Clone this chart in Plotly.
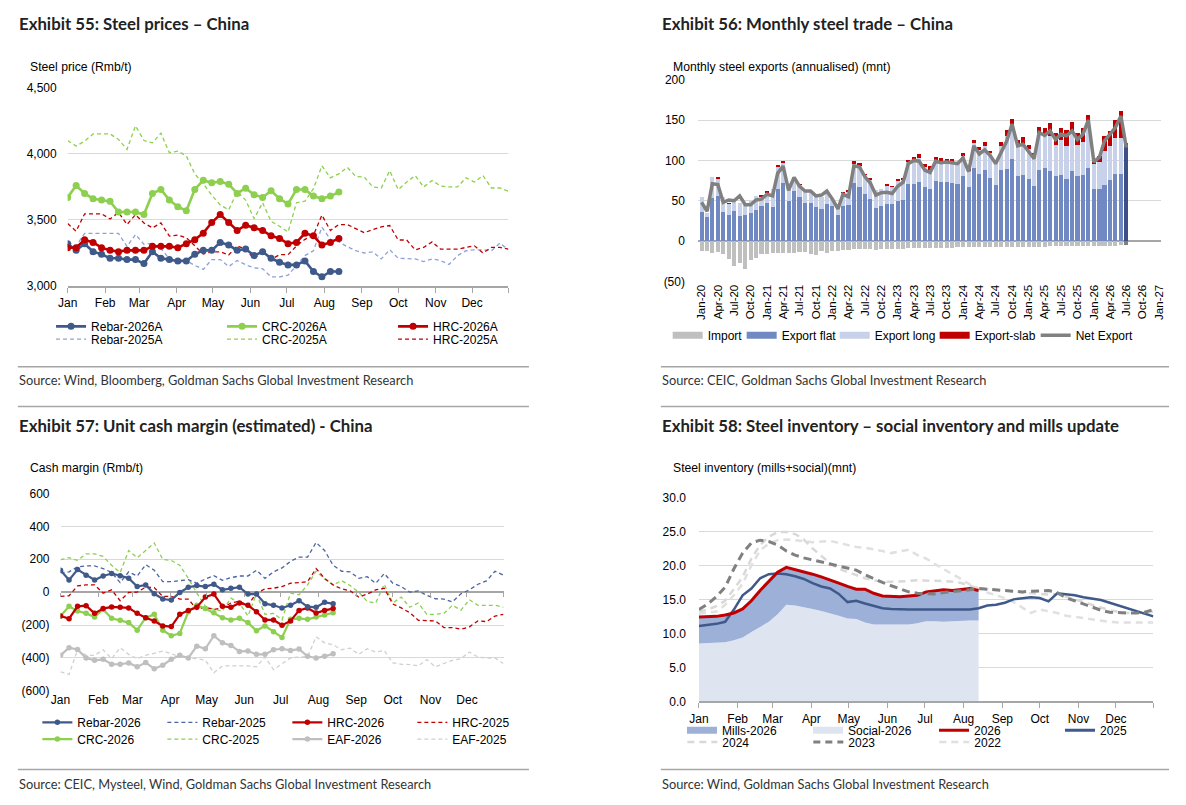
import numpy as np
import pandas as pd
import plotly.graph_objects as go

# page is 1186 x 805 px; everything is placed in paper coords converted from pixels
W, H = 1186, 805


def fx(px):
    return px / W


def fy(py):
    return 1 - py / H


CHART_FONT = "Liberation Sans, Arial, sans-serif"
HEAD_FONT = "Lato, Open Sans, sans-serif"
GRID = "#D9D9D9"
AXIS = "#A6A6A6"

NAVY = "#3F5A8A"
GREEN = "#8DCF4F"
RED = "#C00000"

# ======================
# DATA
# ======================
# seasonal charts: weekly points, both years drawn on one Jan-Dec axis
weeks = pd.date_range("2026-01-01", periods=53, freq="7D")
weeks_ytd = weeks[:33]
month_ticks = list(pd.date_range("2026-01-01", periods=12, freq="MS")) + [pd.Timestamp("2026-12-31")]
month_labels = ["Jan", "Feb", "Mar", "Apr", "May", "Jun", "Jul", "Aug", "Sep", "Oct", "Nov", "Dec", ""]

# Exhibit 55 - steel prices (Rmb/t)
rebar_2026 = [3320, 3270, 3320, 3260, 3240, 3210, 3210, 3200, 3200, 3170, 3260, 3210, 3200, 3190, 3190, 3240, 3270,
              3270, 3330, 3310, 3270, 3280, 3230, 3260, 3210, 3180, 3160, 3160, 3190, 3110, 3070, 3110, 3110]
crc_2026 = [3670, 3760, 3700, 3660, 3650, 3640, 3560, 3560, 3560, 3540, 3700, 3730, 3650, 3600, 3570, 3730, 3800,
            3780, 3790, 3770, 3700, 3740, 3690, 3670, 3720, 3660, 3620, 3730, 3730, 3680, 3660, 3680, 3710]
hrc_2026 = [3290, 3290, 3350, 3330, 3290, 3270, 3260, 3270, 3270, 3270, 3300, 3300, 3300, 3290, 3320, 3350, 3400,
            3480, 3540, 3480, 3420, 3460, 3440, 3420, 3380, 3360, 3320, 3330, 3400, 3380, 3310, 3330, 3360]
rebar_2025 = [3329, 3304, 3398, 3398, 3398, 3398, 3398, 3299, 3390, 3316, 3324, 3284, 3205, 3193, 3193, 3156, 3126,
              3200, 3200, 3148, 3193, 3161, 3138, 3131, 3069, 3069, 3082, 3156, 3230, 3267, 3445, 3353, 3334, 3297,
              3267, 3250, 3259, 3205, 3274, 3210, 3210, 3205, 3185, 3205, 3193, 3163, 3230, 3267, 3274, 3274, 3267,
              3324, 3274]
crc_2025 = [4100, 4058, 4095, 4150, 4150, 4150, 4107, 4033, 4211, 4100, 4082, 4156, 4008, 4020, 3983, 3848, 3773,
            3687, 3613, 3576, 3712, 3650, 3509, 3630, 3489, 3452, 3408, 3630, 3642, 3736, 3909, 3818, 3848, 3897,
            3828, 3823, 3749, 3741, 3872, 3729, 3786, 3835, 3749, 3798, 3756, 3749, 3749, 3818, 3786, 3835, 3741,
            3741, 3717]
hrc_2025 = [3472, 3415, 3546, 3546, 3546, 3507, 3556, 3465, 3539, 3477, 3440, 3477, 3378, 3385, 3366, 3304, 3242,
            3259, 3259, 3235, 3304, 3279, 3205, 3267, 3200, 3237, 3237, 3304, 3353, 3385, 3536, 3420, 3465, 3465,
            3432, 3403, 3427, 3447, 3457, 3348, 3348, 3274, 3292, 3334, 3279, 3279, 3279, 3292, 3304, 3250, 3292,
            3292, 3279]

# Exhibit 56 - monthly steel trade (annualised, mnt), Jan-20 .. Jul-26
months = pd.date_range("2020-01-01", periods=79, freq="MS")
imports = [-12, -12, -14, -13, -16, -22, -31, -27, -34, -23, -21, -16,
           -15.5, -14, -15, -14, -14, -14, -13, -13, -15.5, -17, -12, -14,
           -12, -12, -11, -11, -10, -10, -10, -10, -10.5, -10, -9.5, -9.5,
           -9, -9, -8.5, -8.5, -8.5, -8, -8, -8, -8, -8, -8, -7.5,
           -7.5, -7.5, -7, -7.5, -7, -7, -7, -7, -6.5, -6.5, -6.5, -7,
           -7, -6.5, -6.5, -6.5, -6, -6, -6, -6, -6, -6, -6, -6,
           -6, -5.5, -5.5, -5.5, -5.5, -5, -5]
export_flat = [36, 30, 54, 56, 36, 32.5, 38, 32, 33, 35, 39, 44,
               48, 43, 65, 72, 50, 63, 55, 48, 47, 43, 40, 46,
               44, 32.5, 44, 45, 72, 67, 59, 53, 41, 43.5, 46, 46,
               50, 51, 71, 71.5, 74, 67, 65, 75, 73, 73, 72.8, 71.5,
               80.5, 67.5, 91, 83.7, 88.6, 78.5, 70, 88.6, 90, 102, 80.5, 82.5,
               77.6, 68.7, 88.6, 91, 87.8, 81, 81.7, 77.6, 87.8, 80.5, 82.5, 91,
               64.6, 64.6, 70, 76, 84, 83.7, 121.5]
export_long = [18.5, 5, 26, 22, 19, 14.5, 11, 15, 13, 15, 17, 12,
               13, 22, 28, 26, 22, 17, 15, 15, 14, 15, 15, 15,
               8, 13, 16, 17, 24, 27, 24, 24, 23, 21.5, 23.5, 22,
               26, 26, 27, 28.5, 29, 25, 24, 26, 26, 26, 26, 24.5,
               25.5, 20.3, 30.5, 29.7, 29.4, 30.5, 28, 29.4, 40.5, 40.7, 37.5, 37.5,
               36.4, 34.1, 45.9, 41.5, 42.7, 39, 44.3, 40.4, 46.7, 39.5, 40.5, 55.7,
               31.4, 34.4, 42, 42, 43.6, 43.9, 0]
export_slab = [0, 0, 0, 1, 0, 0.5, 0, 0, 0, 0, 0, 0.8,
               0.5, 0, 0.5, 1.5, 0, 0, 0.5, 0, 0, 0.5, 0, 0.5,
               0, 0, 1, 0.5, 3.5, 3, 0.5, 0.5, 0, 0, 0.5, 0.5,
               0.5, 0.5, 3, 5, 5, 4, 4, 4, 4, 3, 3.2, 2.8,
               4, 1.2, 4.5, 3.6, 5, 3, 2, 5.6, 8.1, 9.3, 8, 9,
               5, 7.2, 7, 8.1, 16.2, 14.5, 14.6, 20.6, 13, 14.5, 17.6, 10.3,
               2, 7, 19, 18.6, 22.4, 33.4, 0]
net_export = [48, 37, 71, 70, 48, 51, 50, 56, 45, 45, 51, 52,
              58, 56, 84, 93, 63, 79, 68, 62, 62, 56, 57, 62,
              52, 40, 58, 55, 93, 92, 80, 72, 57, 60, 60.5, 59,
              68, 73, 96, 100, 99, 88, 85, 99, 97, 98, 97, 96,
              103, 86, 118, 108, 113, 106, 96, 111, 124, 145, 118, 120,
              111, 102, 134.5, 131, 136.6, 126, 132.5, 130.5, 136.6, 126, 132.5, 150,
              98, 104, 124, 132.5, 140.6, 155, 116]

# Exhibit 57 - unit cash margin (Rmb/t)
m_rebar_2026 = [133, 74, 137, 103, 74, 98, 113, 100, 84, 34, 44, -10, -42, -48, -2, 30, 40, 34, 48, 14,
                24, 30, -12, -12, -70, -80, -96, -80, -52, -88, -92, -62, -70]
m_hrc_2026 = [-145, -161, -86, -82, -129, -100, -90, -92, -96, -129, -155, -175, -205, -209, -135, -111, -92,
              -30, -12, -86, -92, -66, -80, -119, -169, -169, -201, -175, -111, -96, -127, -111, -100]
m_crc_2026 = [-145, -86, -115, -129, -151, -105, -159, -171, -185, -231, -155, -135, -231, -265, -251, -119, -80,
              -100, -125, -155, -169, -159, -185, -235, -205, -241, -275, -165, -159, -165, -151, -139, -125]
m_eaf_2026 = [-384, -338, -348, -400, -414, -408, -438, -438, -430, -454, -428, -466, -444, -408, -384, -400, -328,
              -344, -265, -308, -324, -360, -358, -378, -378, -350, -344, -354, -346, -390, -400, -390, -374]
m_rebar_2025 = [117, 123, 153, 159, 159, 143, 119, 58, 123, 98, 167, 133, 64, 64, 70, 76, 54, 80, 100, 72,
                88, 98, 98, 133, 84, 123, 147, 187, 213, 213, 302, 253, 163, 127, 123, 84, 94, 54, 113, 54,
                34, 0, 8, -20, -40, -42, -60, -10, 14, 48, 68, 127, 103]
m_crc_2025 = [197, 209, 193, 233, 233, 217, 163, 119, 253, 209, 253, 299, 199, 193, 163, 84, -6, -86, -105, -115,
              -36, -66, -145, -10, -135, -129, -169, -6, -16, 44, 127, 80, 44, 70, 40, 0, -56, -66, 48, -66,
              -30, -92, -66, -135, -135, -129, -80, -109, -46, -80, -80, -80, -92]
m_hrc_2025 = [-26, -22, 38, 44, 44, -6, 14, -52, -2, 0, 30, 28, -26, -26, -42, -42, -105, -92, -105, -96,
              -66, -56, -80, -6, 20, 24, 34, 54, 58, 64, 143, 84, 44, 20, 8, -30, -12, 14, 24, -72,
              -96, -125, -171, -171, -175, -215, -215, -225, -211, -175, -179, -145, -135]
m_eaf_2025 = [-484, -500, -350, -384, -384, -350, -404, -338, -378, -404, -384, -370, -358, -374, -394, -400, -404,
              -414, -490, -448, -448, -448, -448, -454, -394, -470, -434, -400, -394, -394, -271, -308, -320, -350,
              -340, -378, -344, -364, -354, -430, -438, -440, -448, -410, -454, -434, -414, -404, -364, -394, -400,
              -400, -434]

# Exhibit 58 - steel inventory (mills+social, mnt)
inv_social_2026 = [8.5, 8.6, 8.6, 8.7, 9.0, 9.4, 10.2, 10.9, 11.7, 12.8, 14.2, 14.1, 13.9, 13.6, 13.3, 13.0, 12.6,
                   12.2, 12.1, 11.6, 11.3, 11.3, 11.3, 11.4, 11.3, 11.5, 11.8, 11.8, 11.7, 11.8, 11.9, 11.9, 11.9]
inv_2026 = [12.4, 12.4, 12.5, 12.7, 13.0, 13.6, 14.8, 16.3, 17.7, 19.0, 19.7, 19.4, 19.1, 18.7, 18.3, 17.9, 17.4,
            16.9, 16.5, 16.5, 15.9, 15.5, 15.4, 15.4, 15.5, 15.6, 16.1, 16.3, 16.4, 16.3, 16.4, 16.6, 16.3]
inv_2025 = [11.1, 11.2, 11.4, 11.7, 13.5, 15.6, 16.6, 18.1, 18.7, 18.8, 18.7, 18.4, 18.0, 17.4, 16.9, 16.6, 15.8,
            14.6, 14.8, 14.4, 14.0, 13.7, 13.6, 13.5, 13.5, 13.5, 13.5, 13.4, 13.4, 13.4, 13.5, 13.5, 13.7, 14.1,
            14.2, 14.5, 15.0, 15.2, 15.3, 15.2, 14.7, 15.9, 15.8, 15.6, 15.3, 15.1, 14.9, 14.5, 14.1, 13.7, 13.3,
            13.0, 12.5]
inv_2024 = [13.2, 13.5, 14.0, 14.8, 16.5, 18.3, 21.0, 23.0, 24.2, 24.9, 24.9, 24.6, 23.8, 22.5, 21.4, 20.3, 19.5,
            19.0, 18.6, 18.1, 17.8, 17.6, 17.6, 17.6, 17.7, 17.8, 17.8, 17.7, 17.7, 17.6, 17.4, 17.0, 16.6, 16.5,
            16.4, 16.3, 16.1, 16.0, 15.9, 15.8, 15.7, 15.8, 15.4, 15.0, 14.6, 14.2, 13.8, 13.4, 13.2, 13.0, 13.0,
            13.0, 13.2]
inv_2023 = [13.5, 14.3, 15.4, 16.8, 19.5, 21.8, 23.3, 23.7, 23.5, 23.0, 22.1, 21.5, 21.1, 20.8, 20.5, 20.3, 20.0,
            19.7, 19.3, 18.6, 18.0, 17.5, 17.0, 16.5, 16.1, 15.9, 15.8, 15.8, 16.0, 16.1, 16.2, 16.4, 16.6, 16.5,
            16.4, 16.4, 16.2, 16.1, 16.2, 16.3, 16.3, 16.0, 15.2, 14.8, 14.3, 13.8, 13.4, 13.1, 13.0, 13.0, 13.0,
            13.1, 13.5]
inv_2022 = [12.9, 13.0, 13.2, 14.2, 15.6, 17.3, 20.0, 22.2, 23.2, 23.7, 23.8, 23.7, 23.5, 23.4, 23.5, 23.6, 23.3,
            23.0, 22.7, 22.6, 22.4, 22.1, 21.8, 22.0, 22.3, 21.5, 21.0, 20.2, 19.4, 18.7, 18.0, 17.2, 16.6, 16.0,
            15.6, 15.2, 14.6, 13.8, 13.0, 13.5, 13.3, 13.0, 12.6, 12.4, 12.2, 12.0, 11.8, 11.7, 11.6, 11.6, 11.6,
            11.6, 11.6]


def line(x, y, name, color, width, xa, ya, legend, dash=None, msize=None, showlegend=True, rank=1000):
    return go.Scatter(
        x=x, y=y, name=name,
        mode="lines+markers" if msize else "lines",
        line=dict(color=color, width=width, dash=dash),
        marker=dict(size=msize or 1, color=color),
        xaxis=xa, yaxis=ya, legend=legend, showlegend=showlegend, legendrank=rank,
        hoverinfo="skip",
    )


def legend_swatch(name, color, width, xa, ya, legend, dash=None, rank=1000, lw=None):
    # legend-only entry (bars / areas shown as a wide block like the original)
    return go.Scatter(x=[None], y=[None], name=name, mode="lines",
                      line=dict(color=color, width=width, dash=dash),
                      xaxis=xa, yaxis=ya, legend=legend, legendrank=rank, legendwidth=lw)


fig = go.Figure()

# ---------- Exhibit 55 ----------
D = "4px,3px"
fig.add_trace(line(weeks, rebar_2025, "Rebar-2025A", "#8FA2D6", 1.3, "x", "y", "legend2", dash=D, rank=1))
fig.add_trace(line(weeks, crc_2025, "CRC-2025A", GREEN, 1.3, "x", "y", "legend2", dash=D, rank=2))
fig.add_trace(line(weeks, hrc_2025, "HRC-2025A", RED, 1.3, "x", "y", "legend2", dash=D, rank=3))
fig.add_trace(line(weeks_ytd, rebar_2026, "Rebar-2026A", NAVY, 2.6, "x", "y", "legend", msize=7, rank=1))
fig.add_trace(line(weeks_ytd, crc_2026, "CRC-2026A", GREEN, 2.6, "x", "y", "legend", msize=7, rank=2))
fig.add_trace(line(weeks_ytd, hrc_2026, "HRC-2026A", RED, 2.6, "x", "y", "legend", msize=7, rank=3))

# ---------- Exhibit 56 ----------
bar_w = 23 * 86400000
flat_colors = ["#7189C3"] * (len(months) - 1) + ["#3C4F86"]
imp_colors = ["#BFBFBF"] * (len(months) - 1) + ["#808080"]
for y, colors in [(imports, imp_colors), (export_flat, flat_colors),
                  (export_long, "#C7D1EA"), (export_slab, RED)]:
    fig.add_trace(go.Bar(x=months, y=y, width=bar_w, marker=dict(color=colors, line=dict(width=0)),
                         xaxis="x2", yaxis="y2", showlegend=False, hoverinfo="skip"))
fig.add_trace(line(months, net_export, "Net Export", "#808080", 3.5, "x2", "y2", "legend5", showlegend=False))
for i, (name, color, lw) in enumerate([("Import", "#BFBFBF", 29), ("Export flat", "#7189C3", 48),
                                       ("Export long", "#C7D1EA", 55), ("Export-slab", RED, 56)]):
    fig.add_trace(legend_swatch(name, color, 7, "x2", "y2", "legend5", rank=i + 1, lw=lw))
fig.add_trace(legend_swatch("Net Export", "#808080", 3.5, "x2", "y2", "legend5", rank=5, lw=60))

# ---------- Exhibit 57 ----------
fig.add_trace(line(weeks, m_eaf_2025, "EAF-2025", "#D0D0D0", 1.3, "x3", "y3", "legend4", dash=D, rank=4))
fig.add_trace(line(weeks, m_crc_2025, "CRC-2025", GREEN, 1.3, "x3", "y3", "legend4", dash=D, rank=2))
fig.add_trace(line(weeks, m_hrc_2025, "HRC-2025", RED, 1.3, "x3", "y3", "legend3", dash=D, rank=4))
fig.add_trace(line(weeks, m_rebar_2025, "Rebar-2025", "#4B64A0", 1.3, "x3", "y3", "legend3", dash=D, rank=2))
fig.add_trace(line(weeks_ytd, m_eaf_2026, "EAF-2026", "#BFBFBF", 2.2, "x3", "y3", "legend4", msize=5.5, rank=3))
fig.add_trace(line(weeks_ytd, m_crc_2026, "CRC-2026", GREEN, 2.2, "x3", "y3", "legend4", msize=5.5, rank=1))
fig.add_trace(line(weeks_ytd, m_hrc_2026, "HRC-2026", RED, 2.2, "x3", "y3", "legend3", msize=5.5, rank=3))
fig.add_trace(line(weeks_ytd, m_rebar_2026, "Rebar-2026", NAVY, 2.2, "x3", "y3", "legend3", msize=5.5, rank=1))
# carrier for the tick marks drawn on the zero line
fig.add_trace(go.Scatter(x=[None], y=[None], xaxis="x5", yaxis="y3", showlegend=False))

# ---------- Exhibit 58 ----------
fig.add_trace(go.Scatter(x=weeks_ytd, y=inv_social_2026, fill="tozeroy", fillcolor="#DFE4F1", mode="lines",
                         line=dict(width=0), xaxis="x4", yaxis="y4", showlegend=False, hoverinfo="skip"))
fig.add_trace(go.Scatter(x=weeks_ytd, y=inv_2026, fill="tonexty", fillcolor="#9DB0D8", mode="lines",
                         line=dict(width=0), xaxis="x4", yaxis="y4", showlegend=False, hoverinfo="skip"))
fig.add_trace(line(weeks, inv_2022, "2022", "#E0E0E0", 2.5, "x4", "y4", "legend7", dash="7px,5px", showlegend=False))
fig.add_trace(line(weeks, inv_2024, "2024", "#D9D9D9", 2.5, "x4", "y4", "legend7", dash="7px,5px", showlegend=False))
fig.add_trace(line(weeks, inv_2025, "2025", NAVY, 2.5, "x4", "y4", "legend6", showlegend=False))
fig.add_trace(line(weeks_ytd, inv_2026, "2026", RED, 3, "x4", "y4", "legend6", showlegend=False))
fig.add_trace(line(weeks, inv_2023, "2023", "#808080", 3, "x4", "y4", "legend7", dash="8px,5px", showlegend=False))
fig.add_trace(legend_swatch("Mills-2026", "#9DB0D8", 7, "x4", "y4", "legend6", rank=1))
fig.add_trace(legend_swatch("Social-2026", "#DFE4F1", 7, "x4", "y4", "legend6", rank=2))
fig.add_trace(legend_swatch("2026", RED, 3, "x4", "y4", "legend6", rank=3))
fig.add_trace(legend_swatch("2025", NAVY, 3, "x4", "y4", "legend6", rank=4))
fig.add_trace(legend_swatch("2024", "#D9D9D9", 2.5, "x4", "y4", "legend7", dash="7px,5px", rank=1))
fig.add_trace(legend_swatch("2023", "#808080", 3, "x4", "y4", "legend7", dash="7px,5px", rank=2))
fig.add_trace(legend_swatch("2022", "#E0E0E0", 2.5, "x4", "y4", "legend7", dash="7px,5px", rank=3))

# ======================
# AXES
# ======================
tick_font = dict(family=CHART_FONT, size=12, color="#000")
year_range = ["2026-01-01", "2026-12-31"]


def season_x(x0, x1, anchor, ticks="outside"):
    return dict(domain=[fx(x0), fx(x1)], anchor=anchor, type="date", range=year_range,
                tickvals=month_ticks, ticktext=month_labels, ticks=ticks, ticklen=5, tickcolor=AXIS,
                showline=ticks != "", linecolor=AXIS, linewidth=1.5, showgrid=False, zeroline=False,
                tickfont=tick_font, fixedrange=True)


def value_y(y_bottom, y_top, anchor, rng, tickvals, ticktext, standoff, zeroline=False):
    return dict(domain=[fy(y_bottom), fy(y_top)], anchor=anchor, range=rng, tickvals=tickvals,
                ticktext=ticktext, showgrid=True, gridcolor=GRID, gridwidth=1, zeroline=zeroline,
                zerolinecolor=AXIS, zerolinewidth=1.5, showline=False, ticks="",
                ticklabelstandoff=standoff, tickfont=tick_font, fixedrange=True)


p55_y = [3000, 3500, 4000, 4500]
p56_y = [-50, 0, 50, 100, 150, 200]
p57_y = [-600, -400, -200, 0, 200, 400, 600]
p58_y = [0, 5, 10, 15, 20, 25, 30]

layout_axes = dict(
    xaxis=season_x(59, 510, "y"),
    yaxis=value_y(284, 82, "x", [3000, 4500], p55_y, [f"{v:,}" for v in p55_y], 10),
    xaxis2=dict(domain=[fx(704), fx(1178)], anchor="y2", type="date", range=["2019-12-12", "2027-01-12"],
                tick0="2020-01-01", dtick="M3", tickformat="%b-%y", tickangle=-90, ticks="",
                showgrid=False, zeroline=False, showline=False,
                tickfont=dict(family=CHART_FONT, size=11.5, color="#000"), fixedrange=True),
    yaxis2=value_y(279.3, 74, "x2", [-50, 200], p56_y,
                   [f"({-v})" if v < 0 else str(v) for v in p56_y], 12, zeroline=True),
    xaxis3=season_x(51.7, 505, "y3", ticks=""),
    yaxis3=value_y(696, 495, "x3", [-600, 600], p57_y,
                   [f"({-v})" if v < 0 else str(v) for v in p57_y], 10, zeroline=True),
    xaxis5=dict(overlaying="x3", anchor="free", position=fy(595.5), domain=[fx(51.7), fx(505)],
                type="date", range=year_range, tickvals=month_ticks, ticks="outside", ticklen=4,
                tickcolor=AXIS, showticklabels=False, showgrid=False, showline=False, zeroline=False,
                fixedrange=True),
    xaxis4=season_x(705, 1170, "y4"),
    yaxis4=value_y(706.7, 499, "x4", [0, 30], p58_y, [f"{v:.1f}" for v in p58_y], 12),
)


# ======================
# LEGENDS (one per row so columns line up like the original)
# ======================
def row_legend(x_px, y_px, entry=None):
    d = dict(orientation="h", x=fx(x_px), y=fy(y_px), xanchor="left", yanchor="middle",
             bgcolor="rgba(0,0,0,0)", borderwidth=0, itemwidth=30, tracegroupgap=0, traceorder="normal",
             font=dict(family=CHART_FONT, size=12, color="#000"), itemclick=False, itemdoubleclick=False)
    if entry:
        d["entrywidth"] = entry
    return d


legends = dict(
    legend=row_legend(42, 325, 126),
    legend2=row_legend(42, 338, 126),
    legend3=row_legend(28, 728, 80),
    legend4=row_legend(28, 745, 80),
    legend5=row_legend(673, 334),
    legend6=row_legend(688, 736, 81),
    legend7=row_legend(688, 748, 81),
)

# ======================
# TEXT + RULES
# ======================
annotations = []


def text(x_px, y_px, s, size, family=CHART_FONT, bold=False, color="#000"):
    annotations.append(dict(x=fx(x_px), y=fy(y_px), xref="paper", yref="paper", xanchor="left",
                            yanchor="middle", showarrow=False, text=f"<b>{s}</b>" if bold else s,
                            font=dict(family=family, size=size, color=color)))


text(7.5, 17, "Exhibit 55: Steel prices – China", 16.8, HEAD_FONT, True, "#222")
text(665.5, 17, "Exhibit 56: Monthly steel trade – China", 16.8, HEAD_FONT, True, "#222")
text(7.5, 426, "Exhibit 57: Unit cash margin (estimated) - China", 16.8, HEAD_FONT, True, "#222")
text(665.5, 426, "Exhibit 58: Steel inventory – social inventory and mills update", 16.8, HEAD_FONT, True, "#222")

text(18.5, 61, "Steel price (Rmb/t)", 12.2)
text(676.5, 61, "Monthly steel exports (annualised) (mnt)", 12.2)
text(18.5, 469, "Cash margin (Rmb/t)", 12.2)
text(676.5, 469, "Steel inventory (mills+social)(mnt)", 12.2)

text(7.5, 380, "Source: Wind, Bloomberg, Goldman Sachs Global Investment Research", 12.8, HEAD_FONT, color="#333")
text(665.5, 380, "Source: CEIC, Goldman Sachs Global Investment Research", 12.8, HEAD_FONT, color="#333")
text(7.5, 790.5, "Source: CEIC, Mysteel, Wind, Goldman Sachs Global Investment Research", 12.8, HEAD_FONT,
     color="#333")
text(665.5, 790.5, "Source: Wind, Goldman Sachs Global Investment Research", 12.8, HEAD_FONT, color="#333")

shapes = []
for x0, x1 in [(8, 531), (666, 1186)]:
    for y in [366, 406.5, 776]:
        shapes.append(dict(type="line", xref="paper", yref="paper", x0=fx(x0), x1=fx(x1),
                           y0=fy(y), y1=fy(y), line=dict(color="#A6A6A6", width=1.5)))

fig.update_layout(
    width=W, height=H, margin=dict(l=0, r=0, t=0, b=0),
    paper_bgcolor="white", plot_bgcolor="white",
    barmode="relative", bargap=0,
    font=dict(family=CHART_FONT, size=12, color="#000"),
    annotations=annotations, shapes=shapes,
    hovermode=False,
    **layout_axes, **legends,
)

# drop the browser's default body margin so the 1186x805 figure fills the window exactly
fig.write_html("out.html", config=dict(displayModeBar=False),
               post_script="document.body.style.margin='0';document.body.style.overflow='hidden';")
